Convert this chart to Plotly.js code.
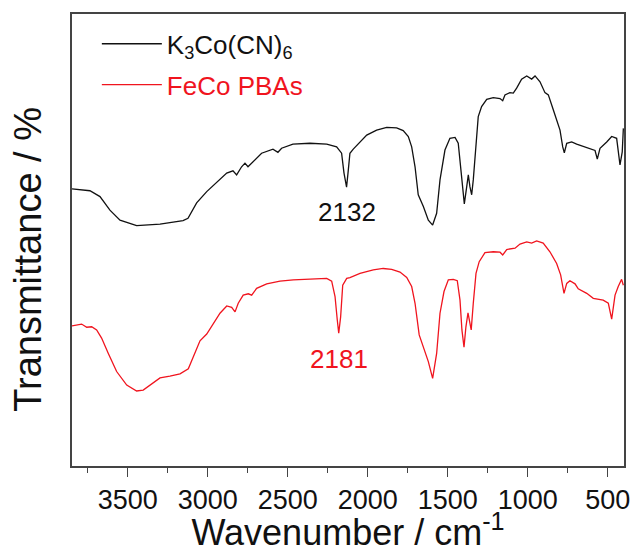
<!DOCTYPE html>
<html>
<head>
<meta charset="utf-8">
<script src="https://cdn.plot.ly/plotly-3.0.1.min.js"></script>
<style>html,body{margin:0;padding:0;background:#fff;}#chart{width:634px;height:553px;}</style>
</head>
<body>
<div id="chart"></div>
<script>
// K3Co(CN)6 spectrum: wavenumber (cm-1) and transmittance (arbitrary %, offset)
const k3coWavenumber = [3848,3736,3673,3611,3548,3444,3298,3154,3123,3069,3006,2944,2881,2842,2819,2788,2767,2748,2717,2663,2592,2561,2538,2467,2361,2256,2194,2163,2148,2132,2123,2111,2090,2048,2006,1944,1881,1819,1778,1746,1725,1704,1684,1652,1621,1594,1569,1548,1517,1486,1454,1434,1419,1406,1396,1381,1371,1361,1350,1340,1323,1309,1288,1256,1215,1173,1156,1142,1111,1090,1069,1038,1006,975,954,923,892,871,840,798,781,771,756,725,694,631,579,565,548,506,475,444,423,409,402];
const k3coTransmittance = [61.3,60.9,59.6,56.6,54.4,53.2,53.5,54.3,54.8,58.2,60.7,62.8,64.8,65.3,64.4,66.2,67.0,66.2,67.3,69.2,70.1,69.4,70.3,71.2,71.4,71.2,70.6,69.2,64.8,61.7,64.8,69.2,70.1,71.7,73.2,74.3,74.9,74.8,74.2,72.9,70.6,66.2,60.0,57.4,54.4,53.3,55.9,63.3,69.9,72.5,72.7,71.4,66.2,60.3,58.0,61.8,64.4,61.8,60.0,63.3,72.1,77.3,79.5,81.1,81.5,81.3,80.8,82.1,82.6,82.5,83.6,85.6,86.3,85.6,86.3,85.0,82.6,82.1,78.8,74.3,70.6,69.3,71.4,71.7,71.2,70.5,69.8,67.9,70.3,71.7,72.9,72.5,66.6,69.5,74.7];

// FeCo PBAs spectrum
const fecoWavenumber = [3848,3788,3756,3725,3694,3663,3621,3569,3506,3444,3403,3350,3298,3236,3173,3121,3090,3048,3006,2965,2923,2881,2850,2829,2809,2778,2746,2725,2694,2631,2548,2465,2340,2256,2225,2204,2190,2181,2169,2156,2131,2111,2048,1965,1903,1850,1798,1756,1725,1704,1678,1652,1621,1594,1569,1548,1523,1496,1465,1440,1423,1411,1398,1386,1373,1361,1353,1340,1323,1303,1267,1215,1173,1156,1131,1079,1048,1006,975,944,903,861,819,794,773,756,736,704,684,631,590,528,496,475,454,434,413,402];
const fecoTransmittance = [31.0,31.4,30.7,30.8,30.1,28.3,24.9,20.9,17.9,16.6,16.8,18.1,19.5,19.9,20.4,21.5,24.2,27.7,29.2,31.6,33.8,35.4,35.1,34.1,36.0,37.8,38.1,37.8,39.3,40.3,40.9,41.2,41.4,41.5,40.9,37.5,32.3,29.4,33.0,40.0,41.5,41.7,42.6,43.4,43.7,43.5,42.9,41.7,39.7,36.0,29.0,26.4,23.1,19.4,24.9,33.8,38.6,41.2,41.3,41.0,36.7,30.1,26.3,30.8,33.9,31.6,30.1,36.0,42.6,45.2,47.2,47.4,47.3,46.7,47.9,48.2,49.1,49.6,49.3,49.8,49.3,47.4,44.8,42.3,38.2,40.4,41.0,40.3,39.2,38.2,37.1,36.7,36.0,32.5,37.8,39.7,41.3,40.0];

// Peak labels
const peakLabels = ['2132', '2181'];
const peakWavenumbers = [2132, 2181];
const peakLabelLevels = [56.3, 23.7];

const FONT = '"Liberation Sans", Arial, Helvetica, sans-serif';
const BLACK = '#111111';
const RED = '#f0141e';

const traces = [
  {
    x: k3coWavenumber, y: k3coTransmittance, type: 'scatter', mode: 'lines',
    name: '<span style="color:#111111">K<sub>3</sub>Co(CN)<sub>6</sub></span>',
    line: {color: BLACK, width: 1.3}, legendgroup: 'a'
  },
  {
    x: fecoWavenumber, y: fecoTransmittance, type: 'scatter', mode: 'lines',
    name: '<span style="color:#f0141e">FeCo PBAs</span>',
    line: {color: RED, width: 1.3}, legendgroup: 'b'
  }
];

const annotations = peakLabels.map((t, i) => ({
  x: peakWavenumbers[i], y: peakLabelLevels[i], xref: 'x', yref: 'y',
  text: t, showarrow: false,
  font: {family: FONT, size: 26, color: i === 0 ? BLACK : RED},
  xanchor: 'center', yanchor: 'middle'
}));

// y-axis title (placed as rotated text to match the reference position)
annotations.push({
  x: -0.08, y: 0.458, xref: 'paper', yref: 'paper',
  text: 'Transmittance / %', textangle: -90, showarrow: false,
  font: {family: FONT, size: 38, color: BLACK},
  xanchor: 'center', yanchor: 'middle'
});

const layout = {
  width: 634, height: 553,
  margin: {l: 72, r: 10, t: 14, b: 87, pad: 0},
  paper_bgcolor: '#ffffff', plot_bgcolor: '#ffffff',
  font: {family: FONT, color: BLACK},
  showlegend: true,
  legend: {
    x: 0.045, y: 0.986, xanchor: 'left', yanchor: 'top',
    bgcolor: 'rgba(0,0,0,0)', borderwidth: 0,
    font: {family: FONT, size: 26},
    traceorder: 'grouped', tracegroupgap: 4, itemwidth: 60
  },
  xaxis: {
    range: [3848, 398], autorange: false,
    showline: true, mirror: true, linecolor: '#444', linewidth: 1.6,
    showgrid: false, zeroline: false,
    ticks: 'outside', ticklen: 9, tickwidth: 1.4, tickcolor: '#444',
    tick0: 500, dtick: 500,
    minor: {ticks: 'outside', ticklen: 5, tickwidth: 1.4, tickcolor: '#444', dtick: 250, tick0: 250, showgrid: false},
    tickfont: {family: FONT, size: 27, color: BLACK},
    title: {text: 'Wavenumber / cm<sup>-1</sup>', font: {family: FONT, size: 36, color: BLACK}, standoff: 6}
  },
  yaxis: {
    range: [0, 100], autorange: false,
    showline: true, mirror: true, linecolor: '#444', linewidth: 1.6,
    showgrid: false, zeroline: false, ticks: '', showticklabels: false
  },
  annotations: annotations
};

Plotly.newPlot('chart', traces, layout, {displayModeBar: false, staticPlot: true});
</script>
</body>
</html>
